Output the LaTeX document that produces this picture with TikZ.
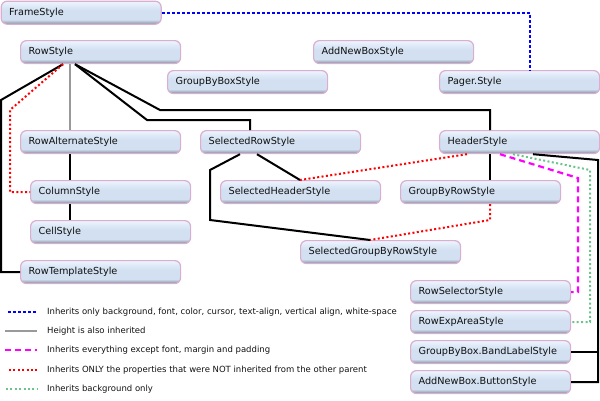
\documentclass[tikz,border=0pt]{standalone}
\usepackage{fontspec}
\setmainfont{DejaVu Sans}
\usetikzlibrary{calc}

\definecolor{boxedge}{HTML}{DAAED0}
\definecolor{shTop}{HTML}{EEF4FC}
\definecolor{shHigh}{HTML}{E0EBF8}
\definecolor{shMid}{HTML}{D2E0F1}
\definecolor{shLow}{HTML}{ABB8C7}
\definecolor{shBot}{HTML}{7E8A9A}
\definecolor{inkgrey}{HTML}{999999}
\definecolor{inkgreen}{HTML}{6CC48C}
\definecolor{inkmagenta}{HTML}{FF00FF}
\definecolor{inkred}{HTML}{FF0000}
\definecolor{inkblue}{HTML}{0000FF}
\definecolor{txt}{HTML}{111111}

% glassy button gradient (stops listed bottom to top)
\pgfdeclareverticalshading{boxshade}{100bp}{%
  color(0bp)=(shBot); color(25bp)=(shBot); color(30bp)=(shLow);
  color(35bp)=(shMid); color(55bp)=(shMid); color(66bp)=(shHigh);
  color(75bp)=(shTop); color(100bp)=(shTop)}

\tikzset{
  stylebox/.style={rectangle, rounded corners=6pt, draw=boxedge, line width=1.2pt,
    shade, shading=boxshade, text width=144pt, inner xsep=8pt, inner ysep=0pt,
    minimum height=23pt, align=left, anchor=north west, text=txt,
    font=\fontsize{9.7}{11}\selectfont},
  solidlink/.style={draw=black, line width=2pt},
  heightlink/.style={draw=inkgrey, line width=2.2pt},
  bluelink/.style={draw=inkblue, line width=2pt, dash pattern=on 3pt off 2pt},
  magentalink/.style={draw=inkmagenta, line width=2.2pt, dash pattern=on 6pt off 4pt},
  redlink/.style={draw=inkred, line width=2pt, dash pattern=on 2pt off 2.4pt},
  greenlink/.style={draw=inkgreen, line width=2pt, dash pattern=on 2pt off 2.4pt},
  legendtext/.style={anchor=west, inner sep=0pt, text=txt, font=\fontsize{8.5}{10}\selectfont},
}

\begin{document}
\begin{tikzpicture}[x=1pt, y=-1pt]
\useasboundingbox (0,0) rectangle (600,400);

% style boxes
\node[stylebox] (frame)       at (0.6,0.6) {FrameStyle};
\node[stylebox] (rowstyle)    at (20,40)   {RowStyle};
\node[stylebox] (addnewbox)   at (313,40)  {AddNewBoxStyle};
\node[stylebox] (groupbybox)  at (167,70)  {GroupByBoxStyle};
\node[stylebox] (pager)       at (439,70)  {Pager.Style};
\node[stylebox] (rowalt)      at (20,130)  {RowAlternateStyle};
\node[stylebox] (selrow)      at (200,130) {SelectedRowStyle};
\node[stylebox] (header)      at (439,130) {HeaderStyle};
\node[stylebox] (column)      at (30,180)  {ColumnStyle};
\node[stylebox] (selheader)   at (220,180) {SelectedHeaderStyle};
\node[stylebox] (groupbyrow)  at (400,180) {GroupByRowStyle};
\node[stylebox] (cell)        at (30,220)  {CellStyle};
\node[stylebox] (selgroup)    at (300,240) {SelectedGroupByRowStyle};
\node[stylebox] (rowtemplate) at (20,260)  {RowTemplateStyle};
\node[stylebox] (rowselector) at (410,280) {RowSelectorStyle};
\node[stylebox] (rowexp)      at (410,310) {RowExpAreaStyle};
\node[stylebox] (bandlabel)   at (410,340) {GroupByBox.BandLabelStyle};
\node[stylebox] (button)      at (410,370) {AddNewBox.ButtonStyle};

% bend points
\coordinate (leftbend)   at (1,100);
\coordinate (redbend)    at (10,110);
\coordinate (hdrbend)    at (160,110);
\coordinate (selbend)    at (147,120);
\coordinate (srA)        at (210,170);
\coordinate (srB)        at (210,220);
\coordinate (gbrbend)    at (490,220);
\coordinate (rightbend)  at (598,160);
\coordinate (magbend)    at (578,178);
\coordinate (grnbend)    at (590,170);

% inheritance links
\draw[bluelink] (frame.east) -| ([xshift=91pt]pager.north west);
\draw[heightlink] ([xshift=50pt]rowstyle.south west) -- ([xshift=50pt]rowalt.north west);
\draw[solidlink] ([xshift=43pt]rowstyle.south west) -- (leftbend) |- (rowtemplate.west);
\draw[redlink] ([xshift=43pt]rowstyle.south west) -- (redbend) |- (column.west);
\draw[solidlink] ([xshift=55pt]rowstyle.south west) -- (hdrbend) -| ([xshift=51pt]header.north west);
\draw[solidlink] ([xshift=55pt]rowstyle.south west) -- (selbend) -| ([xshift=50pt]selrow.north west);
\draw[solidlink] ([xshift=50pt]rowalt.south west) -- ([xshift=40pt]column.north west);
\draw[solidlink] ([xshift=40pt]column.south west) -- ([xshift=40pt]cell.north west);
\draw[solidlink] ([xshift=40pt]selrow.south west) -- (srA) -- (srB) -- ([xshift=70pt]selgroup.north west);
\draw[solidlink] ([xshift=57pt]selrow.south west) -- ([xshift=80pt]selheader.north west);
\draw[redlink] ([xshift=28pt]header.south west) -- ([xshift=80pt]selheader.north west);
\draw[solidlink] ([xshift=51pt]header.south west) -- ([xshift=90pt]groupbyrow.north west);
\draw[redlink] ([xshift=90pt]groupbyrow.south west) -- (gbrbend) -- ([xshift=70pt]selgroup.north west);
\draw[solidlink] ([xshift=94pt]header.south west) -- (rightbend) |- (button.east);
\draw[solidlink] (rightbend |- bandlabel.east) -- (bandlabel.east);
\draw[magentalink] ([xshift=61pt]header.south west) -- (magbend) |- (rowselector.east);
\draw[greenlink] ([xshift=74pt]header.south west) -- (grnbend) |- (rowexp.east);

% legend
\node[legendtext] (lg1) at (47,312) {Inherits only background, font, color, cursor, text-align, vertical align, white-space};
\node[legendtext] (lg2) at (47,331) {Height is also inherited};
\node[legendtext] (lg3) at (47,350) {Inherits everything except font, margin and padding};
\node[legendtext] (lg4) at (47,370) {Inherits ONLY the properties that were NOT inherited from the other parent};
\node[legendtext] (lg5) at (47,389) {Inherits background only};
\draw[bluelink]    ([xshift=-39pt]lg1.west) -- ([xshift=-10pt]lg1.west);
\draw[draw=inkgrey, line width=2.8pt] ([xshift=-42pt]lg2.west) -- ([xshift=-10pt]lg2.west);
\draw[magentalink] ([xshift=-42pt]lg3.west) -- ([xshift=-10pt]lg3.west);
\draw[redlink]     ([xshift=-38pt]lg4.west) -- ([xshift=-10pt]lg4.west);
\draw[greenlink]   ([xshift=-41pt]lg5.west) -- ([xshift=-10pt]lg5.west);
\end{tikzpicture}
\end{document}
